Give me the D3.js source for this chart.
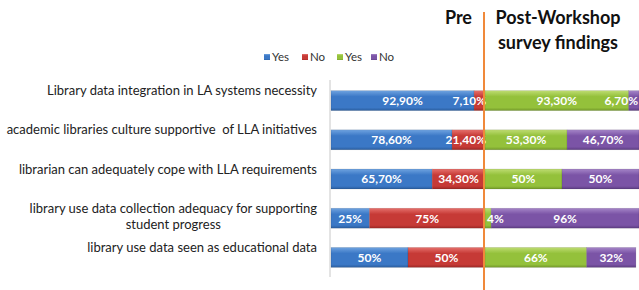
<!DOCTYPE html>
<html>
<head>
<meta charset="utf-8">
<script src="https://cdn.jsdelivr.net/npm/d3@7"></script>
<style>
  body { margin: 0; background: #fff; }
  svg { display: block; font-family: Lato, "Open Sans", sans-serif; }
  text { white-space: pre; }
</style>
</head>
<body>
<div id="chart"></div>
<script>
// categories (top to bottom), each label split into lines
const categories = [
  ["Library data integration in LA systems necessity"],
  ["academic libraries culture supportive  of LLA initiatives"],
  ["librarian can adequately cope with LLA requirements"],
  ["library use data collection adequacy for supporting", "student progress"],
  ["library use data seen as educational data"]
];
const preYes  = [92.9, 78.6, 65.7, 25, 50];
const preNo   = [7.1, 21.4, 34.3, 75, 50];
const postYes = [93.3, 53.3, 50, 4, 66];
const postNo  = [6.7, 46.7, 50, 96, 32];
const seriesNames = ["Yes", "No", "Yes", "No"];
const seriesKeys = ["preYes", "preNo", "postYes", "postNo"];

const width = 639, height = 290;
const colors = {
  preYes:  ["#6fa3e0", "#3b78c6", "#2a5d9e"],
  preNo:   ["#e6706c", "#c63a36", "#9c2825"],
  postYes: ["#bedc72", "#94c13b", "#73992a"],
  postNo:  ["#a585c8", "#7b54a6", "#5d3d82"]
};

const rows = categories.map((c, i) => ({
  id: i, preYes: preYes[i], preNo: preNo[i], postYes: postYes[i], postNo: postNo[i]
}));

const svg = d3.select("#chart").append("svg")
  .attr("width", width).attr("height", height);

// gradients for the glossy bars
const defs = svg.append("defs");
seriesKeys.forEach(k => {
  const g = defs.append("linearGradient").attr("id", "g-" + k)
    .attr("x1", 0).attr("y1", 0).attr("x2", 0).attr("y2", 1);
  g.append("stop").attr("offset", "0%").attr("stop-color", colors[k][0]);
  g.append("stop").attr("offset", "30%").attr("stop-color", colors[k][1]);
  g.append("stop").attr("offset", "85%").attr("stop-color", colors[k][1]);
  g.append("stop").attr("offset", "100%").attr("stop-color", colors[k][2]);
});

const x = d3.scaleLinear().domain([0, 200]).range([331, 639]);
const y = d3.scaleBand().domain(d3.range(categories.length))
  .range([81, 277]).paddingInner(0.49).paddingOuter(0.245);

// left axis line
svg.append("g")
  .attr("transform", "translate(330,0)")
  .call(d3.axisLeft(y).tickSize(0).tickFormat(""))
  .call(g => g.select(".domain").attr("stroke", "#c8c8c8").attr("d", "M0,80V277"));

const stacked = d3.stack().keys(seriesKeys)(rows);

const layers = svg.append("g").selectAll("g")
  .data(stacked).join("g")
  .attr("fill", d => "url(#g-" + d.key + ")");

layers.selectAll("rect")
  .data(d => d)
  .join("rect")
  .attr("x", d => x(d[0]))
  .attr("y", d => y(d.data.id))
  .attr("width", d => x(d[1]) - x(d[0]))
  .attr("height", y.bandwidth())
  .attr("stroke", "rgba(0,0,0,0.15)")
  .attr("stroke-width", 0.6);

// value labels, kept inside their own half of the chart
const fmt = v => Number.isInteger(v) ? v + "%" : v.toFixed(2).replace(".", ",") + "%";
const labelG = svg.append("g")
  .attr("font-size", 12).attr("font-weight", "bold").attr("fill", "#fff");
stacked.forEach((layer, li) => {
  const lo = li < 2 ? x(0) : x(100) + 1;
  const hi = li < 2 ? x(100) + 2 : width;
  layer.forEach(d => {
    const t = labelG.append("text")
      .attr("y", y(d.data.id) + y.bandwidth() / 2)
      .attr("dy", "0.36em")
      .attr("text-anchor", "middle")
      .text(fmt(d[1] - d[0]));
    const w = t.node().getComputedTextLength();
    let cx = (x(d[0]) + x(d[1])) / 2;
    cx = Math.min(cx, hi - w / 2 - 1);
    cx = Math.max(cx, lo + w / 2 + 1);
    t.attr("x", cx);
  });
});

// category labels: first line right-aligned, wrapped lines centred under it
const catG = svg.append("g")
  .attr("font-size", 13).attr("fill", "#222").attr("text-anchor", "middle");
categories.forEach((lines, i) => {
  const cy = y(i) + y.bandwidth() / 2 - 10;
  let cx = 0;
  lines.forEach((ln, j) => {
    const t = catG.append("text")
      .attr("y", cy + j * 16).attr("dy", "0.35em").text(ln);
    if (j === 0) cx = 317 - t.node().getComputedTextLength() / 2;
    t.attr("x", cx);
  });
});

// legend
const legend = svg.append("g").attr("font-size", 11.5).attr("fill", "#333");
const legendX = [264, 302, 337, 371];
seriesKeys.forEach((k, i) => {
  legend.append("rect").attr("x", legendX[i]).attr("y", 54)
    .attr("width", 6).attr("height", 6)
    .attr("fill", "url(#g-" + k + ")");
  legend.append("text").attr("x", legendX[i] + 8).attr("y", 57)
    .attr("dy", "0.35em").text(seriesNames[i]);
});

// pre / post divider
svg.append("line")
  .attr("x1", x(100) - 1).attr("x2", x(100) - 1)
  .attr("y1", 12).attr("y2", height)
  .attr("stroke", "#f0893a").attr("stroke-width", 2);

const head = svg.append("g").attr("font-size", 18).attr("font-weight", "bold")
  .attr("fill", "#111");
head.append("text").attr("x", 472).attr("y", 18).attr("dy", "0.35em")
  .attr("text-anchor", "end").text("Pre");
head.append("text").attr("x", 558).attr("y", 18).attr("dy", "0.35em")
  .attr("text-anchor", "middle").text("Post-Workshop");
head.append("text").attr("x", 558).attr("y", 43).attr("dy", "0.35em")
  .attr("text-anchor", "middle").text("survey findings");
</script>
</body>
</html>
